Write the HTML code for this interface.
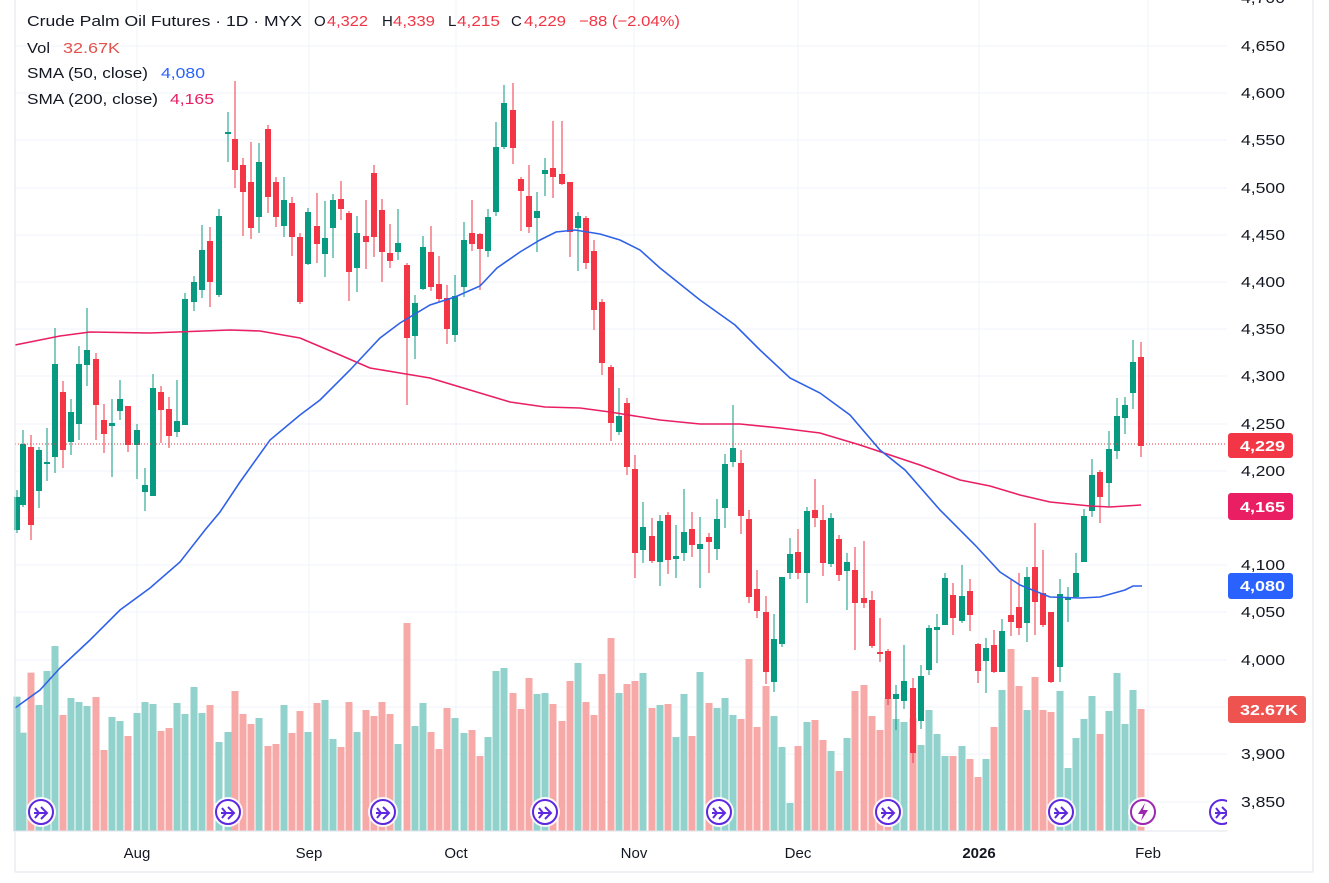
<!DOCTYPE html>
<html><head><meta charset="utf-8"><style>
html,body{margin:0;padding:0;background:#fff;width:1329px;height:883px;overflow:hidden}
svg{display:block;font-family:"Liberation Sans",sans-serif}
</style></head><body>
<svg id="s" width="1329" height="883" xmlns="http://www.w3.org/2000/svg">
<rect width="1329" height="883" fill="#fff"/>
<g id="grid"></g>
<g id="vol"></g>
<g id="cand"></g>
<polyline fill="none" stroke="#e91e63" stroke-width="1.6" points="15,345 60,336 90,332 150,333 230,330 260,331 300,338 340,355 370,368 400,373 430,378 470,390 510,402 545,407 580,408 610,412 660,420 700,424 740,424 780,428 820,433 860,445 890,455 920,465 960,480 990,486 1020,495 1050,502 1090,506 1110,507 1141,505"/>
<polyline fill="none" stroke="#2f62e8" stroke-width="1.6" points="15,708 40,690 60,668 90,640 120,610 150,588 180,562 205,530 220,512 240,482 270,440 300,415 320,400 350,370 380,338 400,323 430,305 455,297 480,286 497,268 520,252 540,240 556,232 575,230 600,234 620,240 640,250 660,268 700,300 735,325 760,350 790,378 820,393 850,415 880,450 905,470 940,510 975,545 1000,572 1020,585 1050,597 1080,598 1100,597 1125,590 1133,586 1142,586"/>
<line x1="15" y1="444" x2="1227" y2="444" stroke="#f23645" stroke-width="1" stroke-dasharray="1,2"/>
<g id="icons"></g>
<rect x="1227" y="0" width="86" height="831" fill="#fff"/>
<g id="axis" font-size="15" fill="#131722"></g>
<line x1="15" y1="831" x2="1227" y2="831" stroke="#e0e3eb"/>
<line x1="15" y1="0" x2="15" y2="872" stroke="#e0e3eb"/>
<line x1="1313" y1="0" x2="1313" y2="872" stroke="#e0e3eb"/>
<line x1="15" y1="872" x2="1313" y2="872" stroke="#e0e3eb"/>
<g font-size="15" fill="#131722" text-anchor="middle">
<text x="137" y="858">Aug</text><text x="309" y="858">Sep</text><text x="456" y="858">Oct</text><text x="634" y="858">Nov</text><text x="798" y="858">Dec</text><text x="979" y="858" font-weight="bold">2026</text><text x="1148" y="858">Feb</text>
</g>
<rect x="1228" y="433" width="65" height="25" rx="3" fill="#f23645"/><text x="1240" y="451" font-size="15" font-weight="bold" fill="#fff" textLength="45" lengthAdjust="spacingAndGlyphs">4,229</text>
<rect x="1228" y="493" width="65" height="27" rx="3" fill="#e91e63"/><text x="1240" y="512" font-size="15" font-weight="bold" fill="#fff" textLength="45" lengthAdjust="spacingAndGlyphs">4,165</text>
<rect x="1228" y="573" width="65" height="26" rx="3" fill="#2962ff"/><text x="1240" y="591" font-size="15" font-weight="bold" fill="#fff" textLength="45" lengthAdjust="spacingAndGlyphs">4,080</text>
<rect x="1228" y="696" width="78" height="27" rx="3" fill="#ef5350"/><text x="1240" y="715" font-size="15" font-weight="bold" fill="#fff" textLength="58" lengthAdjust="spacingAndGlyphs">32.67K</text>
<g font-size="15">
<text x="27" y="26" textLength="275" lengthAdjust="spacingAndGlyphs" fill="#131722">Crude Palm Oil Futures · 1D · MYX</text>
<text x="314" y="26" fill="#131722">O</text><text x="327" y="26" textLength="41" lengthAdjust="spacingAndGlyphs" fill="#f23645">4,322</text>
<text x="382" y="26" fill="#131722">H</text><text x="393" y="26" textLength="42" lengthAdjust="spacingAndGlyphs" fill="#f23645">4,339</text>
<text x="448" y="26" fill="#131722">L</text><text x="457" y="26" textLength="43" lengthAdjust="spacingAndGlyphs" fill="#f23645">4,215</text>
<text x="511" y="26" fill="#131722">C</text><text x="524" y="26" textLength="42" lengthAdjust="spacingAndGlyphs" fill="#f23645">4,229</text>
<text x="579" y="26" textLength="101" lengthAdjust="spacingAndGlyphs" fill="#f23645">−88 (−2.04%)</text>
<text x="27" y="53" textLength="23" lengthAdjust="spacingAndGlyphs" fill="#131722">Vol</text>
<text x="63" y="53" textLength="57" lengthAdjust="spacingAndGlyphs" fill="#e2524d">32.67K</text>
<text x="27" y="78" textLength="121" lengthAdjust="spacingAndGlyphs" fill="#131722">SMA (50, close)</text>
<text x="161" y="78" textLength="44" lengthAdjust="spacingAndGlyphs" fill="#2962ff">4,080</text>
<text x="27" y="104" textLength="131" lengthAdjust="spacingAndGlyphs" fill="#131722">SMA (200, close)</text>
<text x="170" y="104" textLength="44" lengthAdjust="spacingAndGlyphs" fill="#e91e63">4,165</text>
</g>
</svg>
<script>
var NS="http://www.w3.org/2000/svg";
function el(p,t,a){var e=document.createElementNS(NS,t);for(var k in a)e.setAttribute(k,a[k]);p.appendChild(e);return e;}
var C=[
[17,'g',497,530,490,533],[23,'g',444,505,430,507],[31,'r',447,525,435,540],[39,'g',450,491,447,508],[47,'g',462,464,428,481],
[55,'g',364,457,328,473],[63,'r',392,450,381,468],[71,'g',412,442,399,455],[79,'g',364,424,346,440],[87,'g',350,365,308,386],
[96,'r',359,405,353,440],[104,'r',420,434,404,453],[112,'g',423,426,399,477],[120,'g',399,411,380,420],[128,'r',406,445,406,452],
[137,'g',430,445,424,479],[145,'g',485,492,468,511],[153,'g',388,496,374,496],[161,'r',392,410,386,443],[169,'r',409,436,397,448],
[177,'g',421,432,380,437],[185,'g',299,425,293,425],[194,'g',282,302,276,311],[202,'g',250,290,225,298],[210,'r',241,282,227,307],
[219,'g',216,295,209,297],[228,'g',132,134,112,162],[235,'r',139,170,81,188],[243,'r',165,192,158,236],[251,'r',182,228,142,239],
[259,'g',162,217,143,233],[268,'r',129,197,125,213],[276,'r',182,217,177,227],[284,'g',200,226,177,237],[292,'r',203,237,197,256],
[300,'r',237,302,233,304],[308,'g',212,264,208,265],[317,'r',226,244,193,263],[325,'g',238,254,201,277],[333,'g',200,228,194,258],
[341,'r',199,209,181,220],[349,'r',213,272,211,301],[357,'g',233,268,216,292],[366,'r',236,242,200,269],[374,'r',173,237,165,257],
[382,'r',210,252,199,282],[390,'r',253,261,224,268],[398,'g',243,252,209,260],[407,'r',265,338,263,405],[415,'g',303,336,295,359],
[423,'g',247,289,236,290],[431,'r',252,287,226,291],[439,'r',284,299,256,302],[447,'r',298,329,285,344],[455,'g',296,335,275,342],
[464,'g',240,287,222,297],[472,'r',233,244,200,251],[480,'r',234,249,233,290],[488,'g',217,251,209,257],[496,'g',147,212,122,216],
[504,'g',103,147,85,149],[513,'r',110,148,83,164],[521,'r',179,191,177,231],[529,'r',196,227,165,233],[537,'g',211,218,192,252],
[545,'g',170,174,158,196],[553,'r',168,177,121,198],[562,'r',174,184,121,185],[570,'r',182,232,182,257],[578,'g',216,228,212,271],
[586,'r',218,263,216,269],[594,'r',251,310,240,330],[602,'r',302,363,299,375],[611,'r',367,423,365,441],[619,'g',416,432,388,435],
[627,'r',403,467,398,475],[635,'r',469,553,455,578],[643,'g',527,550,502,563],[652,'r',536,561,518,563],[660,'g',521,562,515,586],
[668,'r',515,560,512,574],[676,'g',556,559,525,578],[684,'g',532,553,489,561],[692,'r',529,545,512,557],[700,'g',544,549,517,588],
[709,'r',537,542,533,573],[717,'g',519,549,499,560],[725,'g',464,508,454,528],[733,'g',448,462,405,467],[741,'r',463,516,450,534],
[749,'r',519,597,510,603],[757,'r',589,611,570,618],[766,'r',612,672,596,684],[774,'g',639,682,614,692],[782,'g',577,644,577,647],
[790,'g',554,573,538,579],[798,'r',552,573,529,579],[807,'g',511,573,507,603],[815,'r',510,518,479,527],[823,'r',520,563,505,576],
[831,'g',518,564,513,567],[839,'r',539,575,535,581],[847,'g',562,571,553,610],[855,'r',570,603,547,650],[864,'r',598,603,541,608],
[872,'r',600,646,591,648],[880,'r',652,654,618,662],[888,'r',651,699,649,705],[896,'g',694,699,685,730],[904,'g',681,701,645,709],
[913,'r',688,753,678,763],[921,'g',676,721,665,729],[929,'g',628,670,625,675],[937,'g',627,630,614,663],[945,'g',578,625,573,625],
[953,'r',595,618,583,635],[962,'g',596,621,565,623],[970,'r',591,615,579,631],[978,'r',644,671,643,683],[986,'g',648,661,638,693],
[994,'r',645,672,630,673],[1002,'g',631,672,619,672],[1011,'r',615,622,579,636],[1019,'r',607,628,573,635],[1027,'g',577,623,567,642],
[1035,'r',567,602,523,635],[1043,'r',593,625,550,627],[1051,'r',612,682,612,683],[1060,'g',594,667,579,682],[1068,'g',597,600,587,622],
[1076,'g',573,597,553,597],[1084,'g',516,562,509,562],[1092,'g',475,511,459,517],[1100,'r',472,497,470,523],[1109,'g',449,483,431,507],
[1117,'g',416,451,398,459],[1125,'g',405,418,397,434],[1133,'g',362,393,340,409],[1141,'r',357,446,342,457]];
var V=[245,353,173,270,168,93,300,249,261,273,246,405,306,318,363,294,261,267,348,339,264,297,216,294,270,381,351,228,297,327,309,393,387,270,354,288,351,264,255,372,396,261,351,285,303,261,297,387,24,333,264,351,402,279,309,354,345,423,366,168,159,234,282,189,237,234,267,318,198,144,
261,300,177,69,234,207,198,174,279,270,267,366,237,363,171,264,279,249,300,312,132,336,213,303,396,564,393,321,315,375,408,468,369,228,210,303,345,250,312,321,309,390,285,357,423,423,393,432,486,432,336,225,102,213,285,186,285,291,228,459,369,312,243,357,288,174,327,225,282];
var grid=document.getElementById('grid'),vol=document.getElementById('vol'),cand=document.getElementById('cand'),axis=document.getElementById('axis'),icons=document.getElementById('icons');
var labels=[["4,700",-2],["4,650",46],["4,600",93],["4,550",140],["4,500",188],["4,450",235],["4,400",282],["4,350",329],["4,300",376],["4,250",424],["4,200",471],["4,150",518],["4,100",565],["4,050",612],["4,000",660],["3,950",707],["3,900",754],["3,850",802]];
labels.forEach(function(l){el(grid,'line',{x1:15,x2:1227,y1:l[1],y2:l[1],stroke:'#f0f3fa'});
 if(l[0]!="3,950"&&l[0]!="4,150"){var t=el(axis,'text',{x:1241,y:l[1]+5,textLength:44,lengthAdjust:'spacingAndGlyphs'});t.textContent=l[0];}});
[137,309,456,634,798,979,1148].forEach(function(x){el(grid,'line',{x1:x,x2:x,y1:0,y2:831,stroke:'#f0f3fa'});});
C.forEach(function(c,i){var g=c[1]=='g';var y=615+V[i]/3;
 el(vol,'rect',{x:c[0]-3.5,y:y,width:7,height:831-y,fill:g?'#92d2cc':'#f7a9a7'});
 var col=g?'#089981':'#f23645';
 el(cand,'line',{x1:c[0],x2:c[0],y1:c[4],y2:c[5],stroke:col,'stroke-width':1});
 el(cand,'rect',{x:c[0]-3,y:c[2],width:6,height:Math.max(1.5,c[3]-c[2]),fill:col});});
[41,228,383,545,719,888,1061,1222].forEach(function(x){
 el(icons,'circle',{cx:x,cy:812,r:15,fill:'#fff',opacity:0.9});
 el(icons,'circle',{cx:x,cy:812,r:12,fill:'#fff',stroke:'#5d28e0','stroke-width':2});
 el(icons,'path',{d:'M'+(x-7)+' 813 L'+(x+5)+' 813 M'+(x)+' 807 L'+(x+6)+' 813 L'+(x)+' 819 M'+(x-6)+' 808 L'+(x-2)+' 813 L'+(x-6)+' 818',fill:'none',stroke:'#5d28e0','stroke-width':2});});
(function(){var x=1143;el(icons,'circle',{cx:x,cy:812,r:15,fill:'#fff',opacity:0.9});
 el(icons,'circle',{cx:x,cy:812,r:12,fill:'#fff',stroke:'#9c27b0','stroke-width':2});
 el(icons,'path',{d:'M'+(x+2)+' 803 L'+(x-5)+' 814 L'+(x)+' 814 L'+(x-2)+' 821 L'+(x+5)+' 810 L'+(x)+' 810 Z',fill:'#9c27b0'});})();
</script>
</body></html>
